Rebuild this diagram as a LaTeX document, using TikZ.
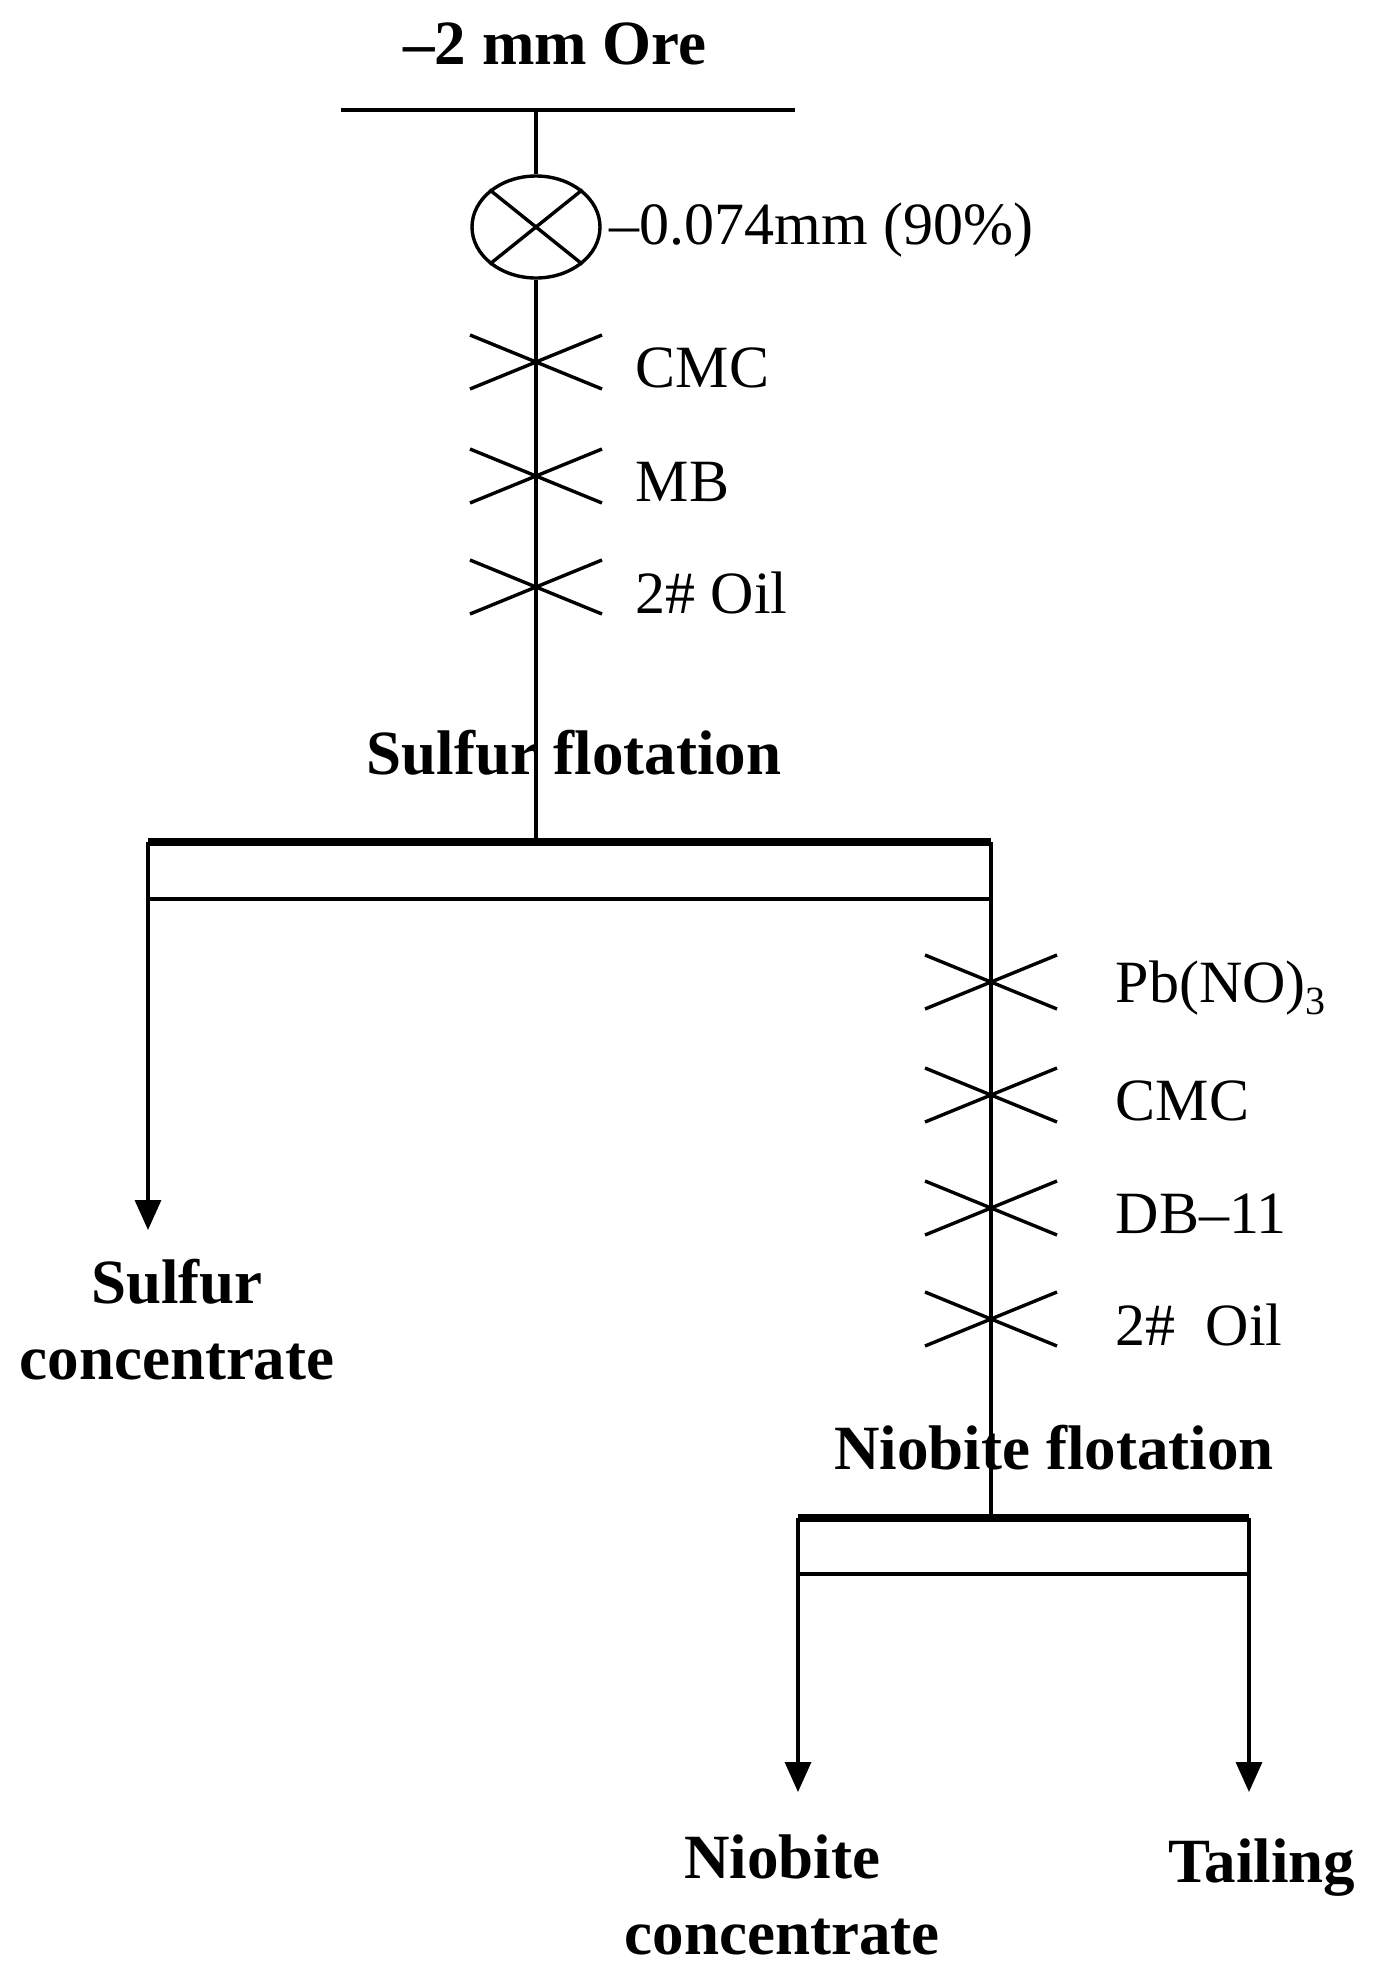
\documentclass[tikz,border=0pt]{standalone}
\usepackage{fontspec}
\setmainfont{Liberation Serif}
\usetikzlibrary{arrows.meta,shapes.geometric}
\begin{document}
\begin{tikzpicture}[x=1pt,y=-1pt,line width=3.4pt,
  lbl/.style={font=\fontsize{60}{66}\selectfont,anchor=west,inner sep=0},
  bl/.style={font=\fontsize{63}{76}\selectfont\bfseries,inner sep=0,align=center},
  arr/.style={-{Triangle[length=30pt,width=26pt]}}]
\useasboundingbox (0,0) rectangle (1373,1974);
% top
\coordinate (tl) at (341,110); \coordinate (tr) at (795,110);
\draw (tl) -- (tr);
\node[bl] (ore) at (555,44) {–2 mm Ore};
\coordinate (t0) at (536,110);
\node[ellipse,draw,minimum width=128pt,minimum height=102pt,inner sep=0] (mill) at (536,227) {};
\draw (mill.north west) -- (mill.south east) (mill.north east) -- (mill.south west);
\node[lbl] (size) at (608,230) {–0.074mm (90\%)};
\coordinate (s1) at (536,842);
\draw (t0) -- (mill.north) (mill.south) -- (s1);
\foreach \y/\t/\n in {362/CMC/a,476/MB/b,587/2\# Oil/c}{
  \coordinate (x\n) at (536,\y);
  \draw ([shift={(-66,-27)}]x\n) -- ([shift={(66,27)}]x\n) ([shift={(-66,27)}]x\n) -- ([shift={(66,-27)}]x\n);
  \node[lbl] (l\n) at (634,\y+6) {\t};}
\node[bl] (sf) at (574,753) {Sulfur flotation};
% upper separator
\coordinate (a1) at (148,842); \coordinate (a2) at (991,842);
\coordinate (b1) at (148,899); \coordinate (b2) at (991,899);
\draw[line width=8pt] (a1) -- (a2);
\draw (b1) -- (b2) (a1) -- (b1) (a2) -- (b2);
\coordinate (sc) at (148,1230);
\draw[arr] (b1) -- (sc);
\node[bl] (scl) at (177,1320) {Sulfur\\concentrate};
\coordinate (c1) at (991,1518);
\draw (b2) -- (c1);
\foreach \y/\t/\n in {982/Pb(NO){\raisebox{-12pt}{\fontsize{40}{40}\selectfont 3}}/d,1095/CMC/e,1208/DB–11/f,1319/2\#\ \ Oil/g}{
  \coordinate (x\n) at (991,\y);
  \draw ([shift={(-66,-27)}]x\n) -- ([shift={(66,27)}]x\n) ([shift={(-66,27)}]x\n) -- ([shift={(66,-27)}]x\n);
  \node[lbl] (l\n) at (1114,\y+6) {\t};}
\node[bl] (nf) at (1054,1448) {Niobite flotation};
% lower separator
\coordinate (d1) at (798,1518); \coordinate (d2) at (1249,1518);
\coordinate (e1) at (798,1574); \coordinate (e2) at (1249,1574);
\draw[line width=8pt] (d1) -- (d2);
\draw (e1) -- (e2) (d1) -- (e1) (d2) -- (e2);
\coordinate (nc) at (798,1792); \coordinate (tc) at (1249,1792);
\draw[arr] (e1) -- (nc);
\draw[arr] (e2) -- (tc);
\node[bl] (ncl) at (782,1895) {Niobite\\concentrate};
\node[bl] (tl2) at (1262,1868) {Tailing};
\end{tikzpicture}
\end{document}
